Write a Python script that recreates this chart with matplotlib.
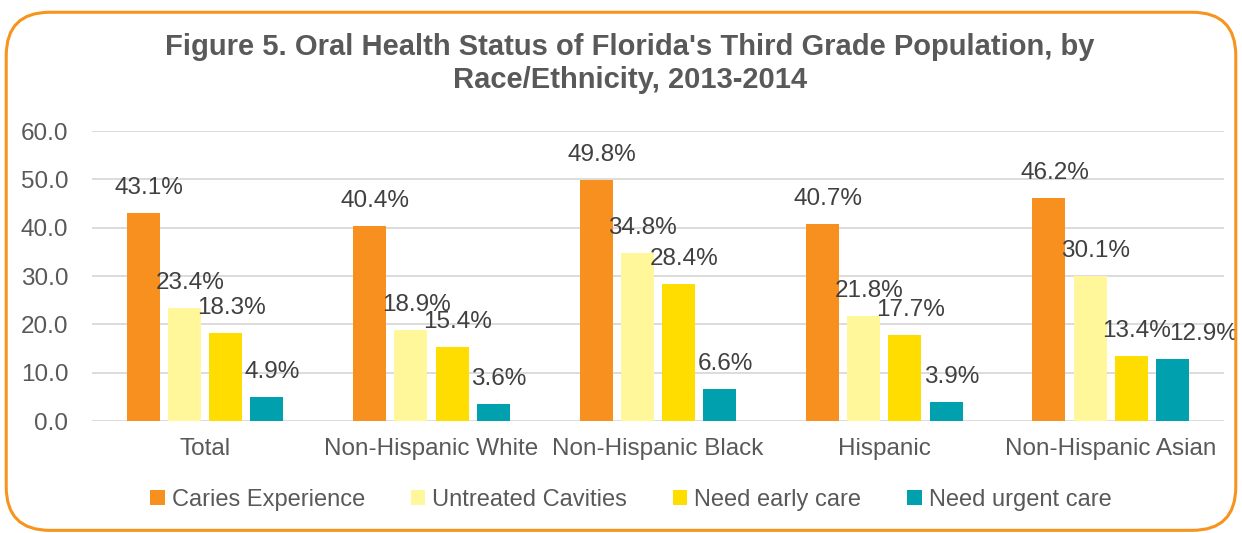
import numpy as np
import matplotlib
matplotlib.use('Agg')
import matplotlib.pyplot as plt
from matplotlib.patches import FancyBboxPatch

plt.rcParams['font.family'] = ['Liberation Sans', 'DejaVu Sans']

groups = ['Total', 'Non-Hispanic White', 'Non-Hispanic Black', 'Hispanic', 'Non-Hispanic Asian']
series = ['Caries Experience', 'Untreated Cavities', 'Need early care', 'Need urgent care']
caries = [43.1, 40.4, 49.8, 40.7, 46.2]
untreated = [23.4, 18.9, 34.8, 21.8, 30.1]
early = [18.3, 15.4, 28.4, 17.7, 13.4]
urgent = [4.9, 3.6, 6.6, 3.9, 12.9]
colors = ['#F7901E', '#FFF799', '#FFDD00', '#00A0AF']

fig = plt.figure(figsize=(12.42, 5.33), dpi=100)
ax = fig.add_axes([0.074, 0.2101, 0.9115, 0.5441])

x = np.arange(len(groups))
step = 0.182
width = 0.146
for i, (vals, name, c) in enumerate(zip([caries, untreated, early, urgent], series, colors)):
    pos = x + (i - 1.5) * step
    ax.bar(pos, vals, width, color=c, label=name, zorder=3)
    for j, (px, v) in enumerate(zip(pos, vals)):
        dx = 4
        if i == 3 and j == len(vals) - 1:
            dx = 22  # pushed right so it clears the neighbour label
        ax.annotate('{0:.1f}%'.format(v), (px, v), xytext=(dx, 18), textcoords='offset points',
                    ha='center', va='center', fontsize=17.5, color='#404040', zorder=4)

ax.set_ylim(0, 60)
ax.set_xlim(-0.5, 4.5)
ax.set_yticks(np.arange(0, 61, 10))
ax.set_yticklabels(['{0:.1f}'.format(t) for t in np.arange(0, 61, 10)])
ax.set_xticks(x)
ax.set_xticklabels(groups)
ax.tick_params(axis='both', length=0, labelsize=17.5, labelcolor='#595959')
ax.tick_params(axis='y', pad=17)
ax.tick_params(axis='x', pad=12)
ax.grid(axis='y', color='#D9D9D9', linewidth=1.3, zorder=0)
for s in ax.spines.values():
    s.set_visible(False)

fig.text(0.507, 0.912, "Figure 5. Oral Health Status of Florida's Third Grade Population, by",
         ha='center', va='center', fontsize=21, fontweight='bold', color='#595959')
fig.text(0.507, 0.85, "Race/Ethnicity, 2013-2014",
         ha='center', va='center', fontsize=21, fontweight='bold', color='#595959')

fig.legend(loc='center', bbox_to_anchor=(0.508, 0.062), ncol=4, frameon=False, fontsize=17,
           handlelength=0.6, handleheight=0.6, handletextpad=0.3, columnspacing=1.95,
           labelcolor='#595959')

border = FancyBboxPatch((0.005, 0.005), 0.99, 0.972, boxstyle='round,pad=0,rounding_size=0.035',
                        transform=fig.transFigure, facecolor='none', edgecolor='#F7941D',
                        linewidth=2.2, mutation_aspect=1242 / 533)
fig.patches.append(border)

plt.savefig('out.png', dpi=100)
